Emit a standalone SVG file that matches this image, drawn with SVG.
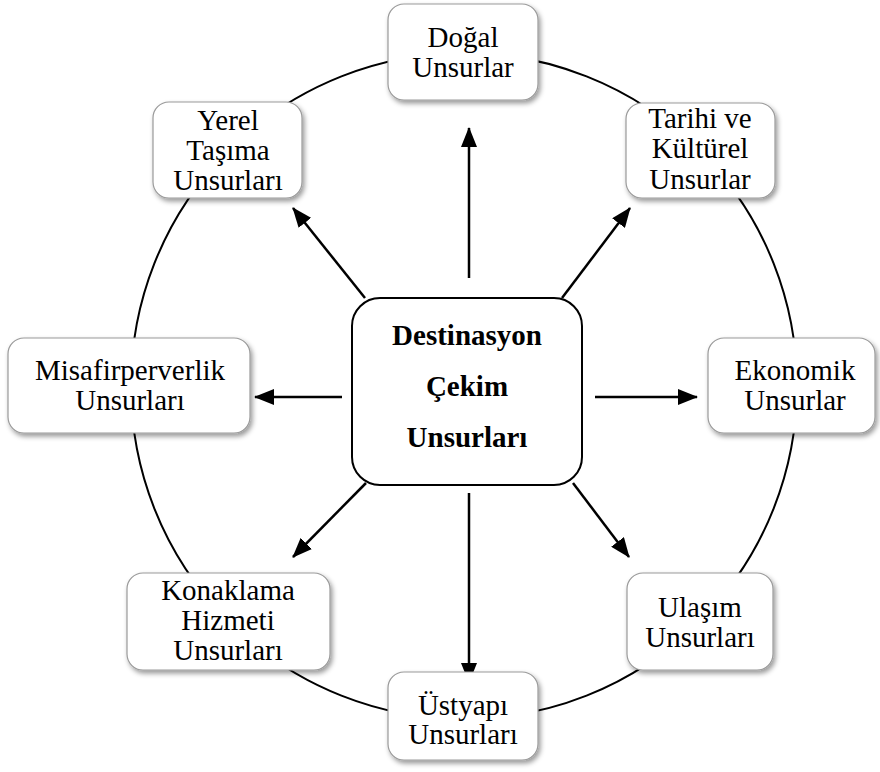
<svg xmlns="http://www.w3.org/2000/svg" width="880" height="772" viewBox="0 0 880 772">
<style>
.box{fill:#fff;stroke:#9a9a9a;stroke-width:1.2;filter:url(#sh)}
.t{font-family:"Liberation Serif","Times New Roman",serif;font-size:29px;fill:#000;text-anchor:middle}
.b{font-weight:bold}
.c{fill:none;stroke:#000;stroke-width:2}
</style>
<defs>
<filter id="sh" x="-10%" y="-10%" width="130%" height="130%">
<feDropShadow dx="2" dy="3" stdDeviation="2.5" flood-color="#000" flood-opacity="0.4"/>
</filter>
<marker id="ah" viewBox="0 0 10 10" refX="9" refY="5" markerWidth="10" markerHeight="8" markerUnits="userSpaceOnUse" orient="auto">
<path d="M0,0 L10,5 L0,10 z" fill="#000"/>
</marker>
<marker id="a" viewBox="0 0 20 16" refX="19" refY="8" markerWidth="20" markerHeight="16" markerUnits="userSpaceOnUse" orient="auto">
<path d="M0,0 L20,8 L0,16 z" fill="#000"/>
</marker>
</defs>
<circle cx="464" cy="386" r="333" class="c"/>
<g id="connectors" stroke="#000" stroke-width="2.5" fill="none">
<line x1="469" y1="278" x2="469" y2="128" marker-end="url(#a)"/>
<line x1="365" y1="298" x2="293" y2="208" marker-end="url(#a)"/>
<line x1="562" y1="298" x2="630" y2="208" marker-end="url(#a)"/>
<line x1="342" y1="397" x2="255" y2="397" marker-end="url(#a)"/>
<line x1="595" y1="397" x2="697" y2="397" marker-end="url(#a)"/>
<line x1="366" y1="483" x2="293" y2="557" marker-end="url(#a)"/>
<line x1="469" y1="493" x2="469" y2="682" marker-end="url(#a)"/>
<line x1="573" y1="483" x2="629" y2="557" marker-end="url(#a)"/>
</g>
<g id="center">
<rect x="352" y="298" width="230" height="187" rx="28" fill="#fff" stroke="#000" stroke-width="2"/>
<text class="t b" x="467" y="345">Destinasyon</text>
<text class="t b" x="467" y="396">Çekim</text>
<text class="t b" x="467" y="447">Unsurları</text>
</g>
<g id="dogal">
<rect class="box" x="388" y="4" width="150" height="96" rx="16"/>
<text class="t" x="463" y="47">Doğal</text>
<text class="t" x="463" y="77">Unsurlar</text>
</g>
<g id="tarihi">
<rect class="box" x="626" y="103" width="149" height="95" rx="16"/>
<text class="t" x="700" y="128">Tarihi ve</text>
<text class="t" x="700" y="158">Kültürel</text>
<text class="t" x="700" y="189">Unsurlar</text>
</g>
<g id="ekonomik">
<rect class="box" x="708" y="338" width="167" height="95" rx="16"/>
<text class="t" x="795" y="380">Ekonomik</text>
<text class="t" x="795" y="410">Unsurlar</text>
</g>
<g id="ulasim">
<rect class="box" x="627" y="573" width="146" height="97" rx="16"/>
<text class="t" x="700" y="617">Ulaşım</text>
<text class="t" x="700" y="647">Unsurları</text>
</g>
<g id="ustyapi">
<rect class="box" x="388" y="672" width="150" height="88" rx="16"/>
<text class="t" x="463" y="715">Üstyapı</text>
<text class="t" x="463" y="744">Unsurları</text>
</g>
<g id="konaklama">
<rect class="box" x="127" y="573" width="203" height="97" rx="16"/>
<text class="t" x="228" y="600">Konaklama</text>
<text class="t" x="228" y="630">Hizmeti</text>
<text class="t" x="228" y="660">Unsurları</text>
</g>
<g id="misafir">
<rect class="box" x="8" y="338" width="242" height="95" rx="16"/>
<text class="t" x="130" y="380">Misafirperverlik</text>
<text class="t" x="130" y="410">Unsurları</text>
</g>
<g id="yerel">
<rect class="box" x="153" y="102" width="149" height="96" rx="16"/>
<text class="t" x="228" y="130">Yerel</text>
<text class="t" x="228" y="160">Taşıma</text>
<text class="t" x="228" y="190">Unsurları</text>
</g>
</svg>
